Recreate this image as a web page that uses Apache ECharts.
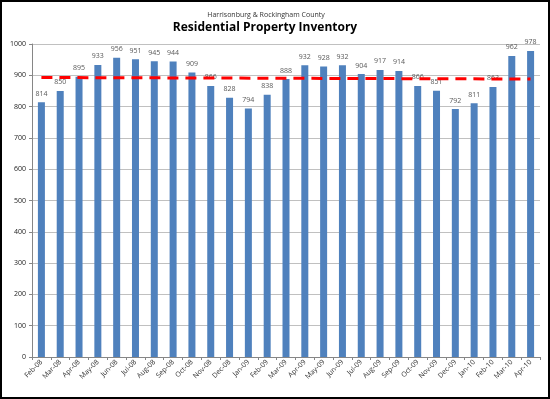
<!DOCTYPE html>
<html>
<head>
<meta charset="utf-8">
<script src="https://cdn.jsdelivr.net/npm/echarts@6/dist/echarts.min.js"></script>
<style>
    html, body { margin: 0; padding: 0; background: #fff; }
    #chart { width: 550px; height: 399px; }
</style>
</head>
<body>
<div id="chart"></div>
<script>
var months = ['Feb-08', 'Mar-08', 'Apr-08', 'May-08', 'Jun-08', 'Jul-08', 'Aug-08', 'Sep-08', 'Oct-08',
    'Nov-08', 'Dec-08', 'Jan-09', 'Feb-09', 'Mar-09', 'Apr-09', 'May-09', 'Jun-09', 'Jul-09', 'Aug-09',
    'Sep-09', 'Oct-09', 'Nov-09', 'Dec-09', 'Jan-10', 'Feb-10', 'Mar-10', 'Apr-10'];
var inventory = [814, 850, 895, 933, 956, 951, 945, 944, 909, 866, 828, 794, 838, 888, 932, 928,
    932, 904, 917, 914, 866, 851, 792, 811, 863, 962, 978];
// trend line, read at first and last month
var trend = [893, 888];

var chart = echarts.init(document.getElementById('chart'));

var option = {
    backgroundColor: '#fff',
    animation: false,
    graphic: [{
        type: 'rect',
        shape: { x: 1, y: 1, width: 548, height: 397 },
        style: { fill: 'none', stroke: '#000', lineWidth: 2 },
        z: 100
    }],
    title: [
        {
            text: 'Harrisonburg & Rockingham County',
            left: 261,
            top: 6,
            textAlign: 'center',
            textStyle: { fontFamily: 'Open Sans', fontSize: 7, fontWeight: 'normal', color: '#333' }
        },
        {
            text: 'Residential Property Inventory',
            left: 260,
            top: 17,
            textAlign: 'center',
            textStyle: { fontFamily: 'Open Sans', fontSize: 12, fontWeight: 'bold', color: '#000' }
        }
    ],
    grid: { left: 32, right: 10, top: 44, bottom: 42 },
    xAxis: {
        type: 'category',
        data: months,
        axisLine: { lineStyle: { color: '#868686' } },
        axisTick: { show: true, length: 3, lineStyle: { color: '#868686' } },
        axisLabel: {
            rotate: 45,
            interval: 0,
            margin: 4,
            fontSize: 7,
            fontFamily: 'Open Sans',
            color: '#333'
        }
    },
    yAxis: {
        type: 'value',
        min: 0,
        max: 1000,
        interval: 100,
        axisLine: { show: true, lineStyle: { color: '#868686' } },
        axisTick: { show: true, length: 3, lineStyle: { color: '#868686' } },
        axisLabel: {
            fontSize: 7,
            fontFamily: 'Open Sans',
            color: '#222',
            margin: 6,
            formatter: function (value) {
                return String(value);
            }
        },
        splitLine: { lineStyle: { color: '#c0c0c0' } }
    },
    series: [{
        type: 'bar',
        data: inventory,
        barWidth: 7,
        itemStyle: { color: '#4f81bd' },
        label: {
            show: true,
            position: 'top',
            distance: 5,
            fontSize: 7,
            fontFamily: 'Open Sans',
            color: '#595959'
        },
        markLine: {
            silent: true,
            symbol: 'none',
            z: 10,
            label: { show: false },
            lineStyle: { color: '#ff0000', width: 3, type: [11, 7] },
            data: [[
                { coord: [0, trend[0]] },
                { coord: [months.length - 1, trend[1]] }
            ]]
        }
    }]
};

chart.setOption(option);
</script>
</body>
</html>
